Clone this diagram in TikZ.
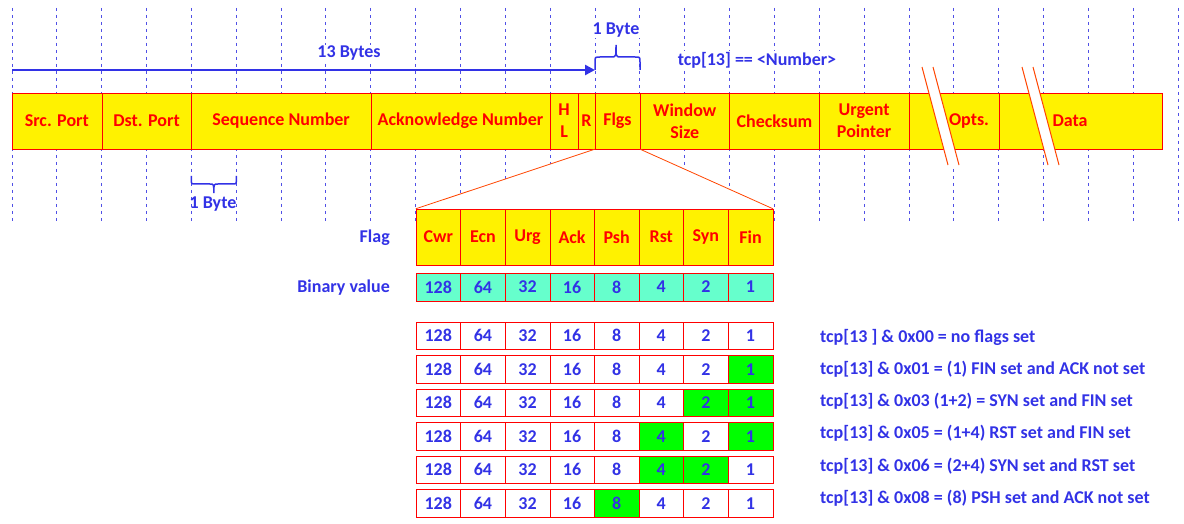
\documentclass[tikz,border=0pt]{standalone}
\usepackage{fontspec}
\setmainfont{Carlito}
\usetikzlibrary{arrows.meta,backgrounds}
\definecolor{txtblue}{RGB}{50,50,230}
\definecolor{gridblue}{RGB}{80,80,230}
\definecolor{cellcyan}{RGB}{102,255,204}
\definecolor{setgreen}{RGB}{0,255,0}
\definecolor{brkred}{RGB}{255,69,0}

\begin{document}
\begin{tikzpicture}[x=1pt, y=-1pt,
  every node/.style={font=\bfseries\fontsize{18}{22}\selectfont, inner sep=0pt},
  field/.style={rectangle, draw=red, fill=yellow, minimum height=56, text=red, align=center},
  cell/.style={rectangle, draw=red, minimum width=44.6, text=txtblue},
  flagcell/.style={cell, fill=yellow, minimum height=56, text=red},
  bincell/.style={cell, fill=cellcyan, minimum height=28},
  valcell/.style={cell, minimum height=27.5},
  lbl/.style={text=txtblue},
  bytegrid/.style={draw=gridblue, line width=1pt, dash pattern=on 3pt off 4pt},
  brk/.style={draw=brkred, line width=1pt},
  zoomln/.style={draw=brkred, line width=0.8pt},
  brc/.style={draw=txtblue, line width=1.5pt}]
\useasboundingbox (0,0) rectangle (1184,524);

% byte grid
\begin{scope}[on background layer]
\foreach \k in {0,...,26}
  \draw[bytegrid] (12+44.85*\k,8) -- (12+44.85*\k,222);
\end{scope}

% tcp header
\node[field, minimum width=89.7] (src) at (56.85,121) {Src. Port};
\node[field, minimum width=89.7] (dst) at (146.55,121) {Dst. Port};
\node[field, minimum width=179.4] (seq) at (281.1,121) {Sequence Number};
\node[field, minimum width=179.4] (ack) at (460.5,121) {Acknowledge Number};
\node[field, minimum width=27.8] (hl) at (564.1,121) {H\\L};
\node[field, minimum width=17] (res) at (586.5,121) {R};
\node[field, minimum width=44.9] (flgs) at (617.45,121) {Flgs};
\node[field, minimum width=89.7] (win) at (684.75,121) {Window\\Size};
\node[field, minimum width=89.7] (chk) at (774.45,121) {Checksum};
\node[field, minimum width=89.7] (urg) at (864.15,121) {Urgent\\Pointer};
\node[field, minimum width=89.7] (opts) at (953.85,121) {};
\node[field, minimum width=163.3] (data) at (1080.35,121) {};
\node[text=red] (optstxt) at (969,121) {Opts.};
\node[text=red] (datatxt) at (1070,121) {Data};

% breaks
\foreach \bx in {922,1022} {
  \fill[white] (\bx,67) -- (\bx+11,67) -- (\bx+37,165) -- (\bx+26,165) -- cycle;
  \draw[brk] (\bx,67) -- (\bx+26,165);
  \draw[brk] (\bx+11,67) -- (\bx+37,165);
}

% offsets
\coordinate (arrs) at (12,70);
\coordinate (arre) at (595,70);
\draw[draw=txtblue, line width=2.5pt, -{Triangle[length=10pt,width=10pt]}] (arrs) -- (arre);
\node[lbl, fill=white, inner sep=1pt] (bytes13) at (349,53) {13 Bytes};
\draw[brc] (595,70) -- (595,62) .. controls (595,57) .. (600,57) -- (611,57)
  .. controls (616,57) .. (616,45) .. controls (616,57) .. (621,57) -- (635,57)
  .. controls (640,57) .. (640,62) -- (640,70);
\node[lbl, fill=white, inner sep=1pt] (byte1top) at (616,30) {1 Byte};
\node[lbl, fill=white, inner sep=1pt] (tcpnum) at (757,60) {tcp[13] == <Number>};
\draw[brc] (191.4,176) -- (191.4,180) .. controls (191.4,184) .. (195.4,184) -- (209.8,184)
  .. controls (213.8,184) .. (213.8,193) .. controls (213.8,184) .. (217.8,184) -- (232.3,184)
  .. controls (236.3,184) .. (236.3,180) -- (236.3,176);
\node[lbl] (byte1bot) at (213,204) {1 Byte};

% flag byte
\node[lbl, anchor=east] (flaglbl) at (390,238) {Flag};
\node[lbl, anchor=east] (binlbl) at (390,288) {Binary value};
\foreach \f [count=\i from 0] in {Cwr,Ecn,Urg,Ack,Psh,Rst,Syn,Fin}
  \node[flagcell] (f\i) at (438.3+44.6*\i,237) {\f};
\foreach \v [count=\i from 0] in {128,64,32,16,8,4,2,1}
  \node[bincell] (b\i) at (438.3+44.6*\i,287) {\v};
\begin{scope}[on background layer]
\fill[white] (flgs.south west) -- (f0.north west) -- (f7.north east) -- (flgs.south east) -- cycle;
\end{scope}
\draw[zoomln] (flgs.south west) -- (f0.north west);
\draw[zoomln] (flgs.south east) -- (f7.north east);

% masks
\foreach \r/\mask/\txt in {0/0/{tcp[13 ] \& 0x00 = no flags set},
    1/1/{tcp[13] \& 0x01 = (1) FIN set and ACK not set},
    2/3/{tcp[13] \& 0x03 (1+2) = SYN set and FIN set},
    3/5/{tcp[13] \& 0x05 = (1+4) RST set and FIN set},
    4/6/{tcp[13] \& 0x06 = (2+4) SYN set and RST set},
    5/8/{tcp[13] \& 0x08 = (8) PSH set and ACK not set}} {
  \foreach \c in {0,...,7} {
    \pgfmathtruncatemacro\v{2^(7-\c)}
    \pgfmathtruncatemacro\bit{mod(floor(\mask/\v),2)}
    \ifnum\bit=1 \def\cf{setgreen}\else\def\cf{white}\fi
    \node[valcell, fill=\cf] (r\r c\c) at (438.3+44.6*\c,335.75+33.5*\r) {\v};
  }
  \node[lbl, anchor=west] (n\r) at (820,337+32.2*\r) {\txt};
}
\end{tikzpicture}
\end{document}
